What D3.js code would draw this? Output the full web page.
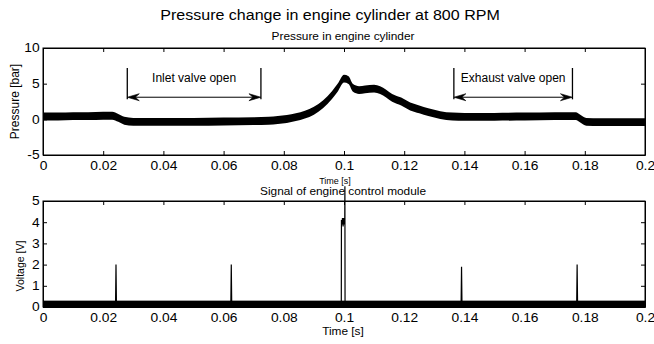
<!DOCTYPE html>
<html>
<head>
<meta charset="utf-8">
<script src="https://cdn.jsdelivr.net/npm/d3@7"></script>
<style>
  body { margin: 0; background: #fff; }
  text { font-family: "Liberation Sans", Arial, sans-serif; fill: #000; }
</style>
</head>
<body>
<script>
// pressure trace: band centre (bar)
const timeP = [0, 0.005, 0.01, 0.015, 0.02, 0.023, 0.025, 0.027, 0.03, 0.04, 0.05, 0.06, 0.07, 0.075,
  0.078, 0.081, 0.084, 0.087, 0.09, 0.093, 0.096, 0.098, 0.1, 0.1015, 0.103, 0.105, 0.107, 0.11, 0.112,
  0.114, 0.116, 0.119, 0.122, 0.125, 0.128, 0.132, 0.136, 0.14, 0.15, 0.16, 0.17, 0.177, 0.1785,
  0.1805, 0.185, 0.19, 0.2];
const pressure = [0.4, 0.4, 0.45, 0.45, 0.5, 0.5, 0.2, -0.2, -0.35, -0.35, -0.35, -0.3, -0.25, -0.2,
  -0.1, 0.05, 0.3, 0.65, 1.2, 2.1, 3.4, 4.5, 5.7, 5.5, 4.4, 4.1, 4.2, 4.3, 4.1,
  3.6, 3.0, 2.5, 1.8, 1.4, 1.0, 0.6, 0.4, 0.35, 0.35, 0.4, 0.45, 0.45, 0.1,
  -0.35, -0.4, -0.4, -0.4];
const pressureNoise = 0.55; // half thickness of the noisy band

// engine control module signal
const timeV = [0, 0.0241, 0.02425, 0.0244, 0.0624, 0.06255, 0.0627, 0.0991, 0.09915, 0.0993, 0.0995,
  0.0997, 0.0999, 0.1001, 0.10025, 0.1003, 0.10035, 0.1389, 0.13905, 0.1392, 0.1773, 0.17745, 0.1776, 0.2];
const voltage = [0.1, 0.1, 2.0, 0.1, 0.1, 2.0, 0.1, 0.1, 4.1, 3.9, 4.2,
  3.8, 4.2, 3.9, 4.1, 5.7, 0.1, 0.1, 1.9, 0.1, 0.1, 2.0, 0.1, 0.1];
const voltageNoise = [0, 0.3]; // low / high of the baseline noise band

const xTicks = [0, 0.02, 0.04, 0.06, 0.08, 0.1, 0.12, 0.14, 0.16, 0.18, 0.2];
const pTicks = [-5, 0, 5, 10];
const vTicks = [0, 1, 2, 3, 4, 5];

const valves = [
  { label: "Inlet valve open", from: 0.028, to: 0.0724 },
  { label: "Exhaust valve open", from: 0.1365, to: 0.1759 }
];

const W = 654, H = 344;
const svg = d3.select("body").append("svg").attr("width", W).attr("height", H);

const x = d3.scaleLinear().domain([0, 0.2]).range([43, 645]);
const yP = d3.scaleLinear().domain([-5, 10]).range([155, 48]);
const yV = d3.scaleLinear().domain([0, 5]).range([307, 201]);

const tickSX = 1.15;

function frame(y, ticks) {
  const [y0, y1] = y.range();
  const g = svg.append("g");
  g.append("g").attr("transform", `translate(0,${y0})`)
    .call(d3.axisBottom(x).tickValues(xTicks).tickSize(-4).tickSizeOuter(0).tickPadding(6).tickFormat(d => d));
  g.append("g").attr("transform", `translate(0,${y1})`)
    .call(d3.axisTop(x).tickValues(xTicks).tickSize(-4).tickSizeOuter(0).tickFormat(""));
  g.append("g").attr("transform", `translate(${x.range()[0]},0)`)
    .call(d3.axisLeft(y).tickValues(ticks).tickSize(-4).tickSizeOuter(0).tickPadding(3).tickFormat(d => d));
  g.append("g").attr("transform", `translate(${x.range()[1]},0)`)
    .call(d3.axisRight(y).tickValues(ticks).tickSize(-4).tickSizeOuter(0).tickFormat(""));
  g.selectAll(".domain").attr("stroke", "#000");
  g.selectAll(".tick line").attr("stroke", "#000");
  g.selectAll(".tick text").attr("font-size", 12).attr("fill", "#000")
    .attr("font-family", "Liberation Sans, Arial, sans-serif")
    .attr("transform", `scale(${tickSX},1)`);
  g.append("rect").attr("x", x.range()[0]).attr("y", y1)
    .attr("width", x.range()[1] - x.range()[0]).attr("height", y0 - y1)
    .attr("fill", "none").attr("stroke", "#000");
  return g;
}

function label(txt, px, py, size, sx, rot) {
  svg.append("text")
    .attr("transform", `translate(${px},${py})` + (rot ? ` rotate(${rot})` : "") + ` scale(${sx},1)`)
    .attr("text-anchor", "middle").attr("font-size", size).text(txt);
}

// top panel
const pData = timeP.map((t, i) => ({ t, p: pressure[i] }));
svg.append("path").datum(pData)
  .attr("fill", "#000")
  .attr("d", d3.area().curve(d3.curveMonotoneX)
    .x(d => x(d.t)).y0(d => yP(d.p - pressureNoise)).y1(d => yP(d.p + pressureNoise)));
frame(yP, pTicks);

// valve annotations
const arrowHead = (tx, ty, dir) => {
  const L = 12, w = 3.5, n = 8;
  return `M${tx},${ty}L${tx - dir * L},${ty - w}L${tx - dir * n},${ty}L${tx - dir * L},${ty + w}Z`;
};
valves.forEach(v => {
  const xa = x(v.from), xb = x(v.to);
  const yTop = yP(7.2), yBot = yP(2.8), yArr = yP(3.1);
  const g = svg.append("g").attr("stroke", "#000").attr("stroke-width", 1.3);
  g.append("line").attr("x1", xa).attr("x2", xa).attr("y1", yTop).attr("y2", yBot);
  g.append("line").attr("x1", xb).attr("x2", xb).attr("y1", yTop).attr("y2", yBot);
  g.append("line").attr("x1", xa + 4).attr("x2", xb - 4).attr("y1", yArr).attr("y2", yArr).attr("stroke-width", 1);
  g.append("path").attr("d", arrowHead(xa, yArr, -1)).attr("fill", "#000").attr("stroke-width", 0.6);
  g.append("path").attr("d", arrowHead(xb, yArr, 1)).attr("fill", "#000").attr("stroke-width", 0.6);
  label(v.label, (xa + xb) / 2, yP(5.3), 12, 1, 0);
});

// bottom panel
svg.append("rect")
  .attr("x", x(0)).attr("width", x(0.2) - x(0))
  .attr("y", yV(voltageNoise[1])).attr("height", yV(voltageNoise[0]) - yV(voltageNoise[1]))
  .attr("fill", "#000");
svg.append("path").datum(timeV.map((t, i) => ({ t, v: voltage[i] })))
  .attr("fill", "none").attr("stroke", "#000").attr("stroke-width", 1.2)
  .attr("d", d3.line().x(d => x(d.t)).y(d => yV(d.v)));
frame(yV, vTicks);

// texts
label("Pressure change in engine cylinder at 800 RPM", 330, 19.5, 15, 1.07, 0);
label("Pressure in engine cylinder", 343, 39.5, 10.5, 1.13, 0);
label("Time [s]", 335, 183.5, 9, 1.0, 0);
label("Signal of engine control module", 343, 195, 10.5, 1.13, 0);
label("Time [s]", 343, 334.5, 10.5, 1.13, 0);
label("Pressure [bar]", 19, 101.5, 12, 1, -90);
label("Voltage [V]", 24, 266, 10.5, 1, -90);
</script>
</body>
</html>
